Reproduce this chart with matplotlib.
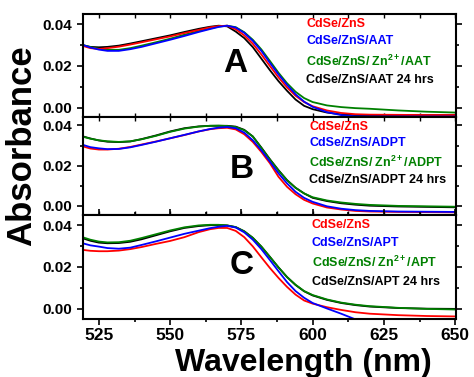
import matplotlib
matplotlib.use("Agg")
import matplotlib.pyplot as plt
from matplotlib.ticker import MultipleLocator, FormatStrFormatter

plt.rcParams["font.family"] = ["Liberation Sans", "DejaVu Sans"]
plt.rcParams["font.weight"] = "bold"
plt.rcParams["mathtext.fontset"] = "custom"
plt.rcParams["mathtext.rm"] = "Liberation Sans:bold"
plt.rcParams["mathtext.it"] = "Liberation Sans:bold"
plt.rcParams["mathtext.bf"] = "Liberation Sans:bold"

# ---- data ----
wavelength = [519, 522, 525, 528, 532, 536, 540, 545, 550, 555, 560, 564, 567, 570,
              573, 576, 579, 582, 585, 588, 591, 594, 597, 600, 605, 610, 615, 620,
              630, 640, 650]

# panel A (AAT)
a_red = [0.0297, 0.0285, 0.0281, 0.0285, 0.0292, 0.0302, 0.0313, 0.0327, 0.0341, 0.0357,
         0.0372, 0.0384, 0.0390, 0.0392, 0.0375, 0.0346, 0.0306, 0.0255, 0.0200, 0.0146,
         0.0098, 0.0058, 0.0028, 0.0008, -0.0012, -0.0024, -0.0030, -0.0032, -0.0033,
         -0.0034, -0.0034]
a_blue = [0.0302, 0.0288, 0.0278, 0.0272, 0.0272, 0.0280, 0.0291, 0.0308, 0.0325, 0.0343,
          0.0362, 0.0376, 0.0386, 0.0392, 0.0383, 0.0358, 0.0320, 0.0272, 0.0215, 0.0160,
          0.0110, 0.0065, 0.0030, 0.0005, -0.0020, -0.0034, -0.0040, -0.0041, -0.0041,
          -0.0041, -0.0041]
a_green = [0.0301, 0.0290, 0.0282, 0.0277, 0.0277, 0.0285, 0.0297, 0.0313, 0.0330, 0.0349,
           0.0366, 0.0379, 0.0388, 0.0392, 0.0385, 0.0361, 0.0325, 0.0279, 0.0224, 0.0168,
           0.0118, 0.0077, 0.0047, 0.0028, 0.0012, 0.0004, -0.0001, -0.0004, -0.0012,
           -0.0018, -0.0022]
a_black = [0.0300, 0.0291, 0.0289, 0.0291, 0.0297, 0.0307, 0.0318, 0.0332, 0.0346, 0.0362,
           0.0377, 0.0387, 0.0392, 0.0389, 0.0364, 0.0333, 0.0290, 0.0235, 0.0180, 0.0128,
           0.0082, 0.0040, 0.0010, -0.0006, -0.0022, -0.0031, -0.0035, -0.0035, -0.0034,
           -0.0034, -0.0034]

# panel B (ADPT)
b_red = [0.0297, 0.0285, 0.0280, 0.0280, 0.0284, 0.0293, 0.0305, 0.0320, 0.0336, 0.0352,
         0.0370, 0.0381, 0.0386, 0.0388, 0.0380, 0.0356, 0.0318, 0.0268, 0.0212, 0.0145,
         0.0095, 0.0058, 0.0030, 0.0012, -0.0008, -0.0018, -0.0025, -0.0028, -0.0030,
         -0.0031, -0.0032]
b_blue = [0.0305, 0.0292, 0.0286, 0.0282, 0.0283, 0.0291, 0.0303, 0.0319, 0.0336, 0.0353,
          0.0370, 0.0382, 0.0389, 0.0392, 0.0386, 0.0364, 0.0326, 0.0276, 0.0220, 0.0162,
          0.0112, 0.0070, 0.0040, 0.0020, -0.0002, -0.0014, -0.0021, -0.0025, -0.0028,
          -0.0029, -0.0030]
b_green = [0.0345, 0.0334, 0.0326, 0.0321, 0.0318, 0.0321, 0.0331, 0.0348, 0.0368, 0.0384,
           0.0394, 0.0398, 0.0399, 0.0397, 0.0392, 0.0376, 0.0345, 0.0288, 0.0230, 0.0176,
           0.0128, 0.0090, 0.0062, 0.0043, 0.0027, 0.0017, 0.0010, 0.0005, 0.0000,
           -0.0002, -0.0004]
b_black = [0.0347, 0.0335, 0.0325, 0.0319, 0.0317, 0.0320, 0.0332, 0.0350, 0.0370, 0.0386,
           0.0395, 0.0398, 0.0398, 0.0398, 0.0394, 0.0378, 0.0345, 0.0290, 0.0232, 0.0178,
           0.0128, 0.0090, 0.0062, 0.0040, 0.0024, 0.0013, 0.0006, 0.0001, -0.0003,
           -0.0005, -0.0007]

# panel C (APT)
c_red = [0.0282, 0.0277, 0.0275, 0.0275, 0.0278, 0.0285, 0.0295, 0.0310, 0.0324, 0.0342,
         0.0366, 0.0380, 0.0386, 0.0386, 0.0372, 0.0342, 0.0298, 0.0246, 0.0195, 0.0148,
         0.0105, 0.0068, 0.0040, 0.0025, 0.0008, -0.0005, -0.0016, -0.0023, -0.0030,
         -0.0034, -0.0036]
c_blue = [0.0314, 0.0303, 0.0297, 0.0290, 0.0287, 0.0292, 0.0305, 0.0322, 0.0340, 0.0358,
          0.0373, 0.0385, 0.0392, 0.0396, 0.0388, 0.0365, 0.0330, 0.0285, 0.0233, 0.0180,
          0.0128, 0.0085, 0.0053, 0.0028, 0.0002, -0.0023, -0.0050, -0.0060, -0.0070,
          -0.0072, -0.0073]
c_green = [0.0343, 0.0330, 0.0321, 0.0317, 0.0318, 0.0325, 0.0338, 0.0356, 0.0374, 0.0389,
           0.0398, 0.0401, 0.0401, 0.0398, 0.0390, 0.0370, 0.0339, 0.0297, 0.0248, 0.0198,
           0.0152, 0.0115, 0.0085, 0.0066, 0.0045, 0.0030, 0.0020, 0.0013, 0.0005,
           0.0000, -0.0003]
c_black = [0.0338, 0.0325, 0.0316, 0.0313, 0.0314, 0.0320, 0.0332, 0.0351, 0.0370, 0.0386,
           0.0395, 0.0399, 0.0400, 0.0398, 0.0390, 0.0370, 0.0339, 0.0297, 0.0248, 0.0198,
           0.0152, 0.0114, 0.0084, 0.0064, 0.0043, 0.0028, 0.0018, 0.0011, 0.0004,
           0.0001, 0.0000]

panel_letters = ["A", "B", "C"]
ligands = ["AAT", "ADPT", "APT"]
series = [
    [a_red, a_blue, a_green, a_black],
    [b_red, b_blue, b_green, b_black],
    [c_red, c_blue, c_green, c_black],
]
colors = ["#ff0000", "#0000ff", "#008000", "#000000"]
draw_order = [3, 2, 0, 1]
ylims = [(-0.0043, 0.0448), (-0.0045, 0.0442), (-0.0048, 0.0448)]
letter_pos = [(0.408, 0.515), (0.426, 0.465), (0.426, 0.51)]
label_x = [0.598, 0.606, 0.614]
label_y = [0.90, 0.735, 0.54, 0.36]

fig = plt.figure(figsize=(4.74, 3.77), dpi=100)
gs = fig.add_gridspec(3, 1, left=0.175, right=0.962, top=0.963, bottom=0.154,
                      hspace=0, height_ratios=[103, 98, 104])

for i in range(3):
    ax = fig.add_subplot(gs[i])
    for k in draw_order:
        ax.plot(wavelength, series[i][k], color=colors[k], lw=1.3)
    ax.set_xlim(519.4, 650.3)
    ax.set_ylim(*ylims[i])
    ax.xaxis.set_major_locator(MultipleLocator(25))
    ax.xaxis.set_minor_locator(MultipleLocator(12.5))
    ax.yaxis.set_major_locator(MultipleLocator(0.02))
    ax.yaxis.set_minor_locator(MultipleLocator(0.01))
    ax.yaxis.set_major_formatter(FormatStrFormatter("%.2f"))
    for s in ax.spines.values():
        s.set_linewidth(1.5)
    ax.tick_params(axis="y", which="both", left=True, right=True, direction="out",
                   labelsize=11, width=1.2)
    ax.tick_params(axis="y", which="major", length=4)
    ax.tick_params(axis="y", which="minor", length=2.5)
    if i < 2:
        ax.tick_params(axis="x", which="both", top=True, bottom=True, direction="in",
                       labelbottom=False, width=1.0, length=3)
    else:
        ax.tick_params(axis="x", which="both", top=True, bottom=True, direction="out",
                       labelsize=12.5, width=1.2, pad=2.5)
        ax.tick_params(axis="x", which="major", length=4)
        ax.tick_params(axis="x", which="minor", length=2.5)
    for lab in ax.get_xticklabels() + ax.get_yticklabels():
        lab.set_fontweight("bold")

    ax.text(letter_pos[i][0], letter_pos[i][1], panel_letters[i], transform=ax.transAxes,
            fontsize=24, fontweight="bold", ha="center", va="center")

    lig = ligands[i]
    texts = ["CdSe/ZnS", f"CdSe/ZnS/{lig}", f"CdSe/ZnS/ Zn$^{{2+}}$/{lig}",
             f"CdSe/ZnS/{lig} 24 hrs"]
    for k in range(4):
        ax.text(label_x[i], label_y[k], texts[k], transform=ax.transAxes, color=colors[k],
                fontsize=9, fontweight="bold", ha="left", va="center")

fig.text(0.045, 0.615, "Absorbance", rotation=90, fontsize=25, fontweight="bold",
         ha="center", va="center")
fig.text(0.64, 0.036, "Wavelength (nm)", fontsize=23, fontweight="bold",
         ha="center", va="center")

fig.savefig("out.png", dpi=100)
